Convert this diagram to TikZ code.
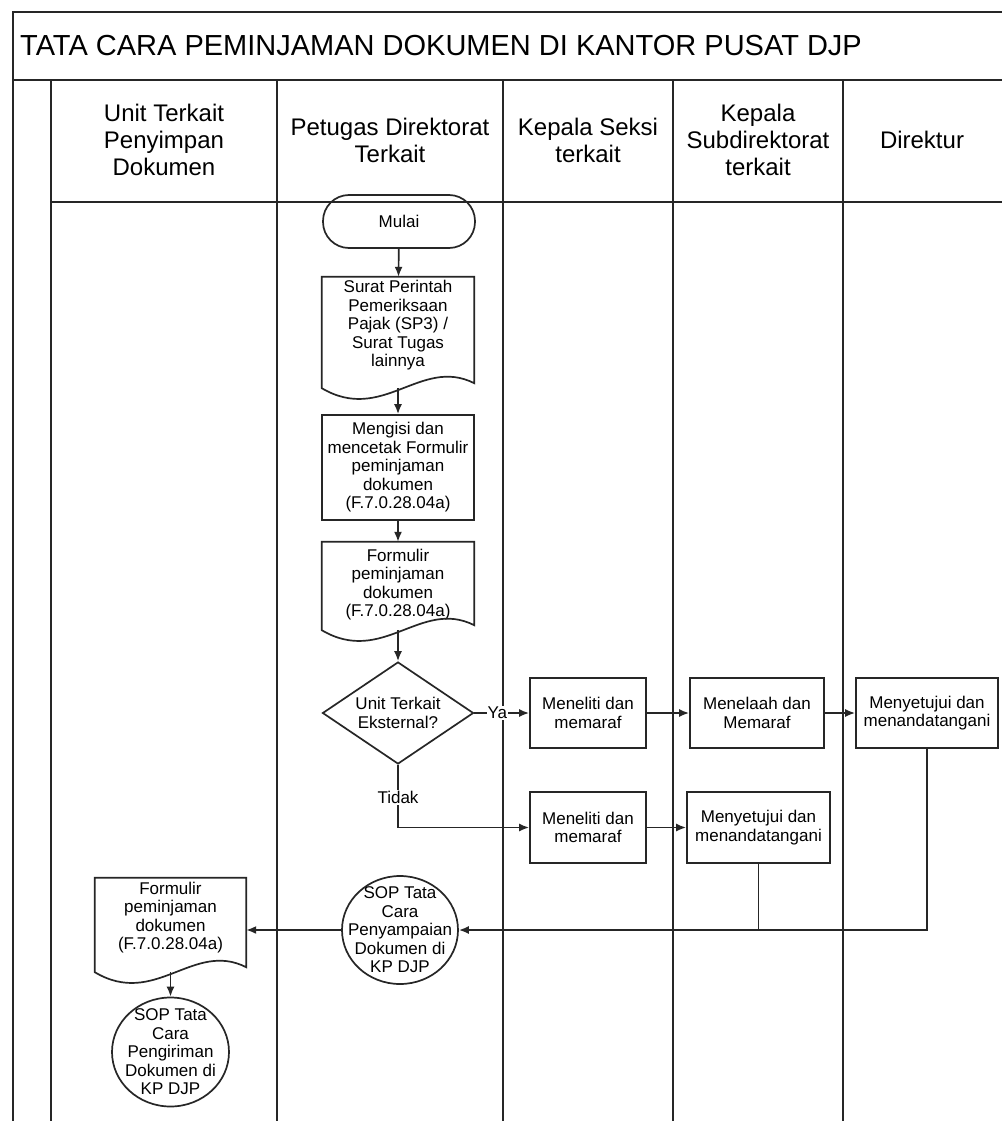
\documentclass[tikz,border=0pt]{standalone}
\usepackage{fontspec}
\setmainfont{Liberation Sans}
\usetikzlibrary{shapes.geometric,arrows.meta,calc}
\newcommand\docoutline[1]{%
  \draw[boxline] (#1.south west) -- (#1.north west) -- (#1.north east) -- ($(#1.south east)+(0,-5)$)
    .. controls ($(#1.south east)!0.35!(#1.south west)+(0,-32)$) and ($(#1.south west)!0.4!(#1.south east)+(0,36)$) .. (#1.south west) -- cycle;}
\begin{document}
\begin{tikzpicture}[x=1pt,y=-1pt,
  frame/.style={line width=1.7pt, draw=black!85},
  boxline/.style={draw=black!85, line width=1.7pt},
  txt/.style={font=\fontsize{17}{18.5}\selectfont, align=center, inner sep=0pt},
  procbox/.style={txt, boxline, rectangle, minimum height=70pt},
  docbox/.style={txt, rectangle, minimum width=152pt},
  sopcirc/.style={txt, boxline, ellipse, inner xsep=-16pt, inner ysep=-10pt, minimum width=116pt, minimum height=108pt},
  conn/.style={line width=1.7pt, draw=black!85},
  arr/.style={conn, -{Latex[length=10pt,width=8pt]}},
  head/.style={font=\fontsize{24}{27}\selectfont, align=center, inner sep=0pt},
  lbl/.style={txt, fill=white, inner sep=1pt}]
\useasboundingbox[fill=white] (0,0) rectangle (1002,1121);

% frame
\draw[frame] (13,1121) -- (13,12) -- (1002,12);
\draw[frame] (13,80) -- (1002,80);
\draw[frame] (51,202) -- (1002,202);
\foreach \x in {51,277,503,673,843} \draw[frame] (\x,80) -- (\x,1121);

\node[anchor=west, inner sep=3pt, font=\fontsize{29}{33}\selectfont] (title) at (17,46) {TATA CARA PEMINJAMAN DOKUMEN DI KANTOR PUSAT DJP};

\node[head] (h1) at (164,140) {Unit Terkait\\Penyimpan\\Dokumen};
\node[head] (h2) at (390,140) {Petugas Direktorat\\Terkait};
\node[head] (h3) at (588,140) {Kepala Seksi\\terkait};
\node[head] (h4) at (758,140) {Kepala\\Subdirektorat\\terkait};
\node[head] (h5) at (922,140) {Direktur};

% flow
\node[txt, boxline, rectangle, rounded corners=26pt, minimum width=152pt, minimum height=53pt] (mulai) at (399,221.5) {Mulai};
\node[docbox, minimum height=111pt, text depth=18pt] (doc1) at (398,332.5) {Surat Perintah\\Pemeriksaan\\Pajak (SP3) /\\Surat Tugas\\lainnya};
\docoutline{doc1}
\node[procbox, minimum width=152pt, minimum height=105pt] (isi) at (398,467.5) {Mengisi dan\\mencetak Formulir\\peminjaman\\dokumen\\(F.7.0.28.04a)};
\node[docbox, minimum height=88pt, text depth=6pt] (doc2) at (398,586) {Formulir\\peminjaman\\dokumen\\(F.7.0.28.04a)};
\docoutline{doc2}
\node[txt, boxline, diamond, shape aspect=1.5, minimum width=151pt, minimum height=102pt] (dec) at (398,713) {Unit Terkait\\Eksternal?};

\node[procbox, minimum width=116pt] (b1) at (588,713) {Meneliti dan\\memaraf};
\node[procbox, minimum width=134pt] (b2) at (757,713) {Menelaah dan\\Memaraf};
\node[procbox, minimum width=142pt] (b3) at (927,713) {Menyetujui dan\\menandatangani};
\node[procbox, minimum width=116pt, minimum height=71pt] (mb1) at (588,827.5) {Meneliti dan\\memaraf};
\node[procbox, minimum width=143pt, minimum height=71pt] (mb2) at (758.5,827.5) {Menyetujui dan\\menandatangani};

\node[sopcirc] (sop1) at (400,930) {SOP Tata\\Cara\\Penyampaian\\Dokumen di\\KP DJP};
\node[docbox, minimum width=151pt, minimum height=94pt, text depth=18pt] (doc3) at (170.5,925) {Formulir\\peminjaman\\dokumen\\(F.7.0.28.04a)};
\docoutline{doc3}
\node[sopcirc, minimum width=117pt, minimum height=109pt] (sop2) at (170.5,1052) {SOP Tata\\Cara\\Pengiriman\\Dokumen di\\KP DJP};

% connectors
\draw[arr] (mulai) -- (doc1);
\draw[arr] (doc1.south) -- (isi.north);
\draw[arr] (isi) -- (doc2);
\draw[arr] (doc2.south) -- (dec.north);
\draw[arr] (dec.east) -- node[lbl, pos=0.42] {Ya} (b1.west);
\draw[arr] (b1) -- (b2);
\draw[arr] (b2) -- (b3);
\draw[arr] (dec.south) |- node[lbl, pos=0.26] {Tidak} (mb1.west);
\draw[arr] (mb1) -- (mb2);
\draw[arr] (b3.south) |- (sop1.east);
\draw[conn] (mb2.south) -- (mb2.south |- sop1.east);
\draw[arr] (sop1.west) -- (sop1.west -| doc3.east);
\draw[arr] (doc3.south) -- (sop2.north);
\end{tikzpicture}
\end{document}
